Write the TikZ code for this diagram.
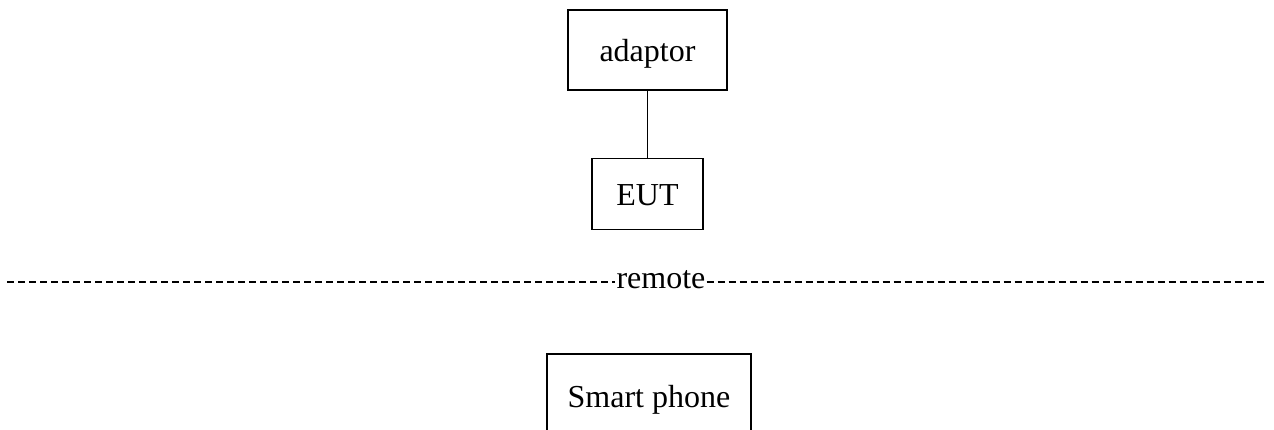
\documentclass[tikz,border=0pt]{standalone}
\usepackage{fontspec}
\setmainfont{Liberation Serif}
\usepackage{tikz}
\usetikzlibrary{positioning}

\begin{document}
\begin{tikzpicture}[x=1pt,y=-1pt]
			\tikzstyle{box} = [rectangle,draw=black,fill=white,line width=1.6pt,inner sep=0pt,text height=24pt,text depth=0pt,font=\fontsize{32}{38}\selectfont]
			\tikzstyle{edge} = [-,line width=1.6pt]
			\tikzstyle{sep} = [-,line width=2.4pt,dash pattern=on 7pt off 4pt]
			\useasboundingbox (0,0) rectangle (1274,430);
			\clip (0,0) rectangle (1274,430);
			\node[box,minimum width=159pt,minimum height=80pt] (adaptor) at (647.5,50) {adaptor};
			\node[box,minimum width=111pt,minimum height=71pt] (eut) at (647.5,194) {EUT};
			\node[box,minimum width=204pt,minimum height=82pt] (phone) at (649,395) {Smart phone};
			\node[anchor=base,inner sep=1pt,font=\fontsize{32}{38}\selectfont] (remote) at (661,289) {remote};
			\coordinate (sepL) at (7,282);
			\coordinate (sepR) at (1267,282);
			\draw[edge] (adaptor)--(eut);
			\draw[sep] (sepL)--(sepL-|remote.west);
			\draw[sep] (sepR-|remote.east)--(sepR);
\end{tikzpicture}
\end{document}
